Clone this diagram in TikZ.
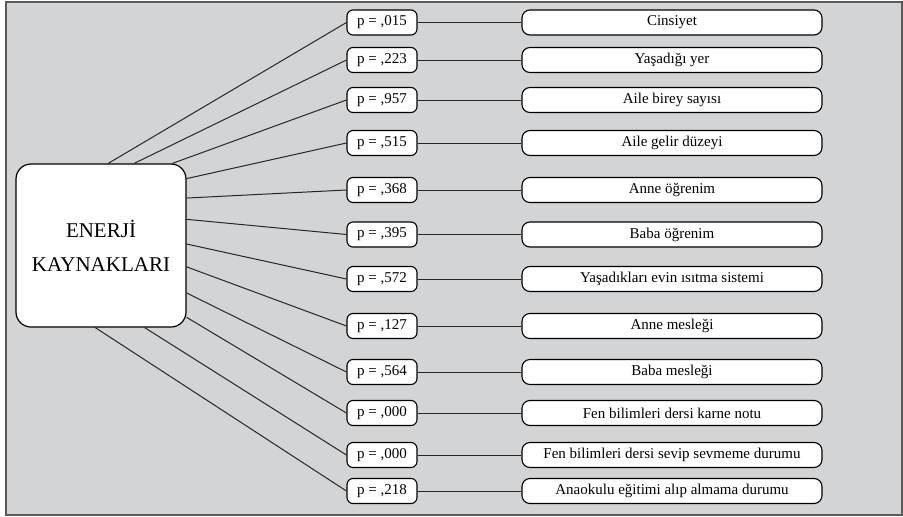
\documentclass[tikz,border=0pt]{standalone}
\usepackage{fontspec}
\setmainfont{Liberation Serif}
\definecolor{zemin}{HTML}{D3D4D6}
\definecolor{cerceve}{HTML}{5A5A5A}
\tikzset{
  pbox/.style = {draw, fill = white, rounded corners = 6pt, line width = 1.1pt,
    minimum width = 70pt, minimum height = 25pt, inner sep = 0pt,
    font = \fontsize{15}{17}\selectfont},
  degbox/.style = {pbox, rounded corners = 8pt, minimum width = 300pt},
  bag/.style = {line width = 1pt, black!85}
}
\begin{document}
\begin{tikzpicture}[x = 1pt, y = -1pt]
\useasboundingbox (0,0) rectangle (903,517);
\draw[cerceve, fill = zemin, line width = 2pt] (6,1.5) rectangle (902,515);

\node at (101,245.5) (EK) [draw, fill = white, rounded corners = 15pt, line width = 1.2pt,
  minimum width = 170pt, minimum height = 163pt, align = center,
  font = \fontsize{21}{34}\selectfont] {ENERJİ\\KAYNAKLARI};

\node at (382,22.5) (P1) [pbox] {p = ,015};
\node at (382,60) (P2) [pbox] {p = ,223};
\node at (382,100) (P3) [pbox] {p = ,957};
\node at (382,143) (P4) [pbox] {p = ,515};
\node at (382,190) (P5) [pbox] {p = ,368};
\node at (382,234.5) (P6) [pbox] {p = ,395};
\node at (382,279) (P7) [pbox] {p = ,572};
\node at (382,326) (P8) [pbox] {p = ,127};
\node at (382,372) (P9) [pbox] {p = ,564};
\node at (382,413) (P10) [pbox] {p = ,000};
\node at (382,455) (P11) [pbox] {p = ,000};
\node at (382,491) (P12) [pbox] {p = ,218};

\node at (672,22.5) (D1) [degbox] {Cinsiyet};
\node at (672,60) (D2) [degbox] {Yaşadığı yer};
\node at (672,100) (D3) [degbox] {Aile birey sayısı};
\node at (672,143) (D4) [degbox] {Aile gelir düzeyi};
\node at (672,190) (D5) [degbox] {Anne öğrenim};
\node at (672,234.5) (D6) [degbox] {Baba öğrenim};
\node at (672,279) (D7) [degbox] {Yaşadıkları evin ısıtma sistemi};
\node at (672,326) (D8) [degbox] {Anne mesleği};
\node at (672,372) (D9) [degbox] {Baba mesleği};
\node at (672,413) (D10) [degbox] {Fen bilimleri dersi karne notu};
\node at (672,455) (D11) [degbox] {Fen bilimleri dersi sevip sevmeme durumu};
\node at (672,491) (D12) [degbox] {Anaokulu eğitimi alıp almama durumu};

% merkezden p kutularina
\draw[bag] (EK.85.8) -- (P1.west);
\draw[bag] (EK.68.6) -- (P2.west);
\draw[bag] (EK.49.7) -- (P3.west);
\draw[bag] (EK.38.5) -- (P4.west);
\draw[bag] (EK.29.2) -- (P5.west);
\draw[bag] (EK.17.9) -- (P6.west);
\draw[bag] (EK.1.7) -- (P7.west);
\draw[bag] (EK.-14.2) -- (P8.west);
\draw[bag] (EK.-29.2) -- (P9.west);
\draw[bag] (EK.-40.5) -- (P10.west);
\draw[bag] (EK.-62.7) -- (P11.west);
\draw[bag] (EK.266.5) -- (P12.west);

% p kutularindan degiskenlere
\draw[bag] (P1) -- (D1);
\draw[bag] (P2) -- (D2);
\draw[bag] (P3) -- (D3);
\draw[bag] (P4) -- (D4);
\draw[bag] (P5) -- (D5);
\draw[bag] (P6) -- (D6);
\draw[bag] (P7) -- (D7);
\draw[bag] (P8) -- (D8);
\draw[bag] (P9) -- (D9);
\draw[bag] (P10) -- (D10);
\draw[bag] (P11) -- (D11);
\draw[bag] (P12) -- (D12);
\end{tikzpicture}
\end{document}
